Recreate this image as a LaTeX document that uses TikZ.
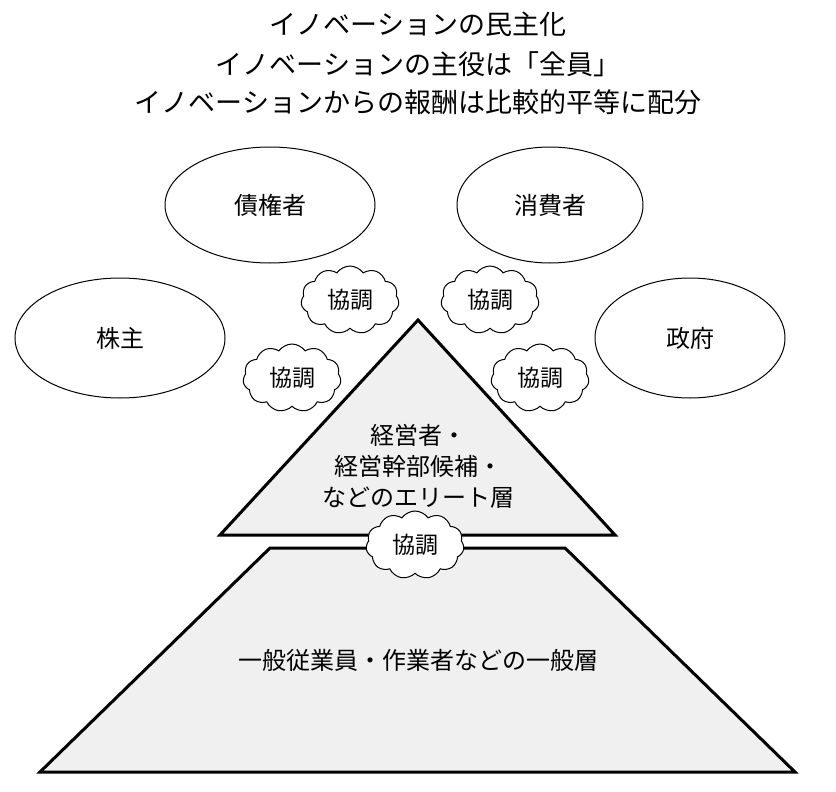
\documentclass[tikz,border=0pt]{standalone}
\usepackage{fontspec}
\setmainfont{Noto Sans CJK JP}
\usetikzlibrary{shapes.symbols,shapes.geometric}
\tikzset{
  title/.style={font=\fontsize{27}{30}\selectfont},
  ell/.style={draw,ellipse,line width=1pt,font=\fontsize{24}{28}\selectfont},
  kcloud/.style={draw,cloud,cloud puffs=11,cloud puff arc=110,aspect=1.5,fill=white,line width=1pt,minimum width=98pt,minimum height=68pt,font=\fontsize{23}{26}\selectfont},
  pyr/.style={draw,line width=3pt,fill=black!6,line join=miter},
  lab/.style={font=\fontsize{24}{31}\selectfont}
}
\begin{document}
\begin{tikzpicture}[x=1pt,y=-1pt]
\useasboundingbox[fill=white] (0,0) rectangle (836,792);
\node[title] (t1) at (418,24) {イノベーションの民主化};
\node[title] (t2) at (418,64) {イノベーションの主役は「全員」};
\node[title] (t3) at (418,102) {イノベーションからの報酬は比較的平等に配分};
\node[ell,minimum width=210pt,minimum height=116pt] (a) at (270,205) {債権者};
\node[ell,minimum width=186pt,minimum height=116pt] (b) at (550,205) {消費者};
\node[ell,minimum width=210pt,minimum height=120pt] (c) at (120,338) {株主};
\node[ell,minimum width=190pt,minimum height=120pt] (d) at (690,338) {政府};
\draw[pyr] (418,320) -- (615,535) -- (220,535) -- cycle;
\draw[pyr] (270,548) -- (565,548) -- (795,772) -- (40,772) -- cycle;
\node[lab,align=center] (top) at (418,466) {経営者・\\経営幹部候補・\\などのエリート層};
\node[lab] (low) at (418,660) {一般従業員・作業者などの一般層};
\node[kcloud] (k1) at (350,300) {協調};
\node[kcloud] (k2) at (490,300) {協調};
\node[kcloud] (k3) at (292,378) {協調};
\node[kcloud] (k4) at (540,378) {協調};
\node[kcloud] (k5) at (415,545) {協調};
\end{tikzpicture}
\end{document}
